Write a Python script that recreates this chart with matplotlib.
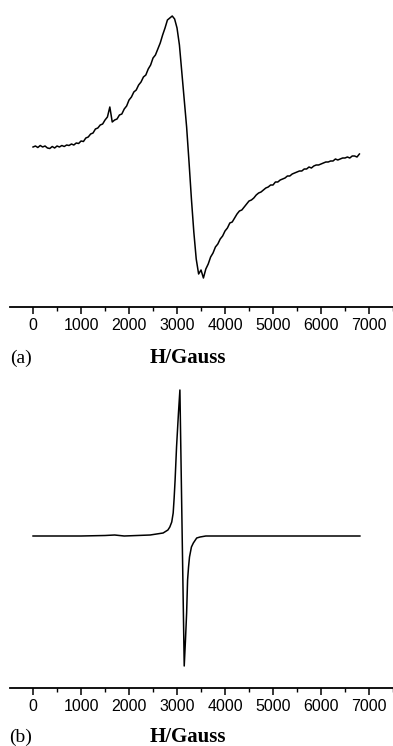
import numpy as np
import matplotlib
matplotlib.use("Agg")
import matplotlib.pyplot as plt
from matplotlib.ticker import MultipleLocator

# (a) broad signal, sampled every 50 Gauss, intensity in arbitrary units
h_a = np.arange(0, 6801, 50)
i_a = [0, 1, -0.5, 1.5, 0, 1, -1, -1.5, 0.5, -1,
       1, 0, 1.5, 0.5, 2, 1.5, 3, 2, 4, 3.5,
       6, 5.5, 9, 10, 13, 14, 18, 19, 22, 23,
       27, 30, 40, 25, 27, 28, 32, 33, 38, 41,
       47, 50, 55, 57, 62, 65, 70, 72, 78, 82,
       89, 92, 98, 104, 112, 119, 127, 129, 131, 128,
       119, 102, 75, 48, 20, -15, -52, -85, -112, -127,
       -123, -131, -122, -117, -110, -106, -100, -97, -92, -89,
       -84, -81, -76, -75, -71, -67, -64, -63, -60, -57,
       -54, -53, -51, -48, -46, -45, -43, -41, -40, -38,
       -38, -35, -35, -33, -32, -31, -29, -29, -27, -26,
       -25, -24, -24, -22, -22, -20, -21, -19, -18, -18,
       -17, -16, -15, -15, -14, -14, -12, -13, -12, -11,
       -11, -10, -11, -9, -9, -10, -7]

# (b) narrow signal
h_b = [0, 1000, 1500, 1700, 1900, 2440, 2710, 2810, 2850, 2890, 2920, 2940,
       2960, 2990, 3030, 3060, 3150, 3175, 3200, 3220, 3240, 3260, 3300, 3340,
       3410, 3480, 3600, 6810]
i_b = [0, 0, 0.5, 1, 0, 1, 3, 6, 9, 14, 23, 38,
       56, 89, 123, 146, -130, -105, -77, -44, -31, -21, -11, -7,
       -2, -1, 0, 0]

W, H = 393, 746
fig = plt.figure(figsize=(W / 100, H / 100), dpi=100)


def make_axes(top_px, bottom_px, ylim, xs, ys):
    ax = fig.add_axes([10 / W, 1 - bottom_px / H, 383 / W, (bottom_px - top_px) / H])
    ax.plot(xs, ys, color="black", lw=1.1)
    ax.set_xlim(-480, 7500)
    ax.set_ylim(*ylim)
    for s in ["top", "left", "right"]:
        ax.spines[s].set_visible(False)
    ax.spines["bottom"].set_linewidth(1.3)
    ax.set_yticks([])
    ax.xaxis.set_minor_locator(MultipleLocator(500))
    ax.set_xticks(range(0, 7001, 1000))
    ax.tick_params(axis="x", which="major", direction="out", length=5, width=1.1,
                   pad=3, labelsize=11.5)
    ax.tick_params(axis="x", which="minor", direction="out", length=3, width=1.0)
    for lab in ax.get_xticklabels():
        lab.set_fontfamily("Liberation Sans")
    return ax


make_axes(5, 307, (-160, 142), h_a, i_a)
make_axes(380, 688, (-152, 156), h_b, i_b)

for y, tag in [(358, "(a)"), (737, "(b)")]:
    fig.text(21 / W, 1 - y / H, tag, ha="center", va="center",
             family="Liberation Serif", fontsize=14)
for y in [358, 737]:
    fig.text(188 / W, 1 - y / H, "H/Gauss", ha="center", va="center",
             family="Liberation Serif", fontweight="bold", fontsize=15)

fig.savefig("out.png", dpi=100)
